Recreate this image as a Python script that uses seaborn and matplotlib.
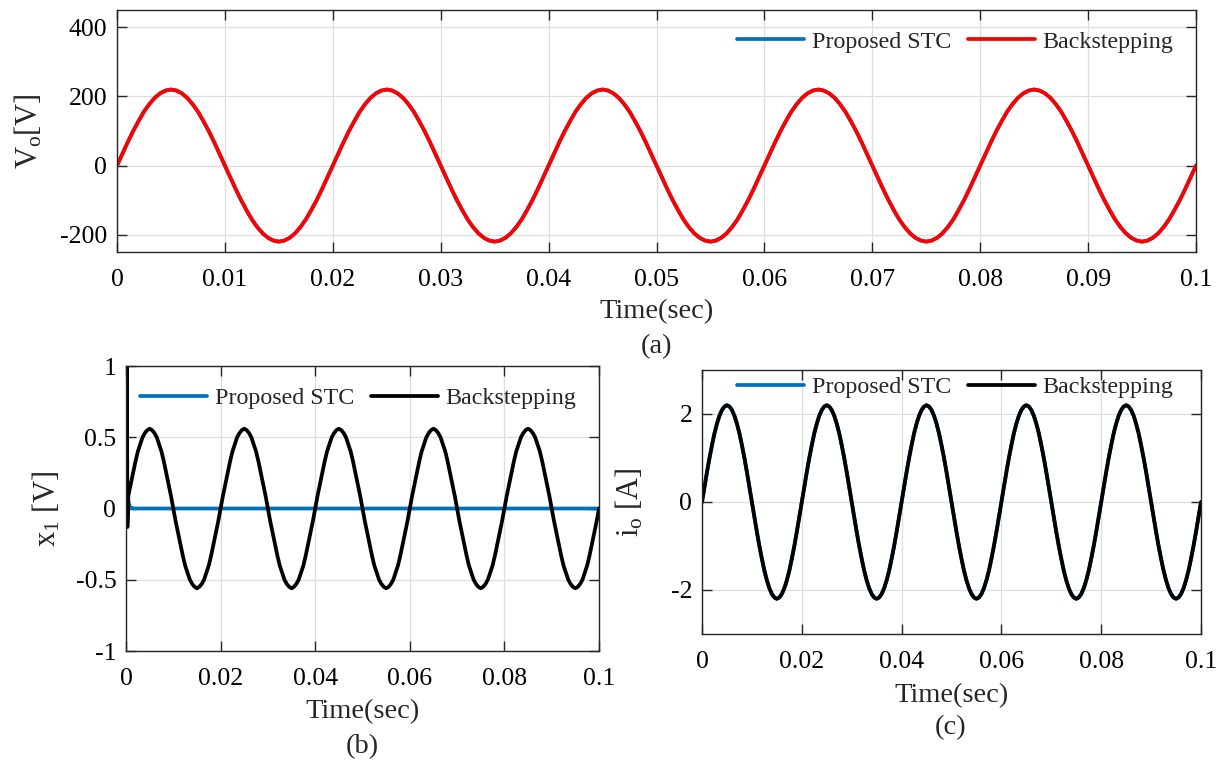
import matplotlib
matplotlib.use("Agg")
import matplotlib.pyplot as plt
import seaborn as sns

# ---------------- data ----------------
time_ms = [0, 0.5, 1, 1.5, 2, 2.5, 3, 3.5, 4, 4.5, 5, 5.5, 6, 6.5, 7, 7.5, 8, 8.5, 9, 9.5,
           10, 10.5, 11, 11.5, 12, 12.5, 13, 13.5, 14, 14.5, 15, 15.5, 16, 16.5, 17, 17.5, 18, 18.5, 19, 19.5,
           20, 20.5, 21, 21.5, 22, 22.5, 23, 23.5, 24, 24.5, 25, 25.5, 26, 26.5, 27, 27.5, 28, 28.5, 29, 29.5,
           30, 30.5, 31, 31.5, 32, 32.5, 33, 33.5, 34, 34.5, 35, 35.5, 36, 36.5, 37, 37.5, 38, 38.5, 39, 39.5,
           40, 40.5, 41, 41.5, 42, 42.5, 43, 43.5, 44, 44.5, 45, 45.5, 46, 46.5, 47, 47.5, 48, 48.5, 49, 49.5,
           50, 50.5, 51, 51.5, 52, 52.5, 53, 53.5, 54, 54.5, 55, 55.5, 56, 56.5, 57, 57.5, 58, 58.5, 59, 59.5,
           60, 60.5, 61, 61.5, 62, 62.5, 63, 63.5, 64, 64.5, 65, 65.5, 66, 66.5, 67, 67.5, 68, 68.5, 69, 69.5,
           70, 70.5, 71, 71.5, 72, 72.5, 73, 73.5, 74, 74.5, 75, 75.5, 76, 76.5, 77, 77.5, 78, 78.5, 79, 79.5,
           80, 80.5, 81, 81.5, 82, 82.5, 83, 83.5, 84, 84.5, 85, 85.5, 86, 86.5, 87, 87.5, 88, 88.5, 89, 89.5,
           90, 90.5, 91, 91.5, 92, 92.5, 93, 93.5, 94, 94.5, 95, 95.5, 96, 96.5, 97, 97.5, 98, 98.5, 99, 99.5,
           100]

vo_backstepping = [
    0, 34, 68, 100, 129, 156, 178, 196, 209, 217, 220, 217, 209, 196, 178, 156, 129, 100, 68, 34,
    0, -34, -68, -100, -129, -156, -178, -196, -209, -217, -220, -217, -209, -196, -178, -156, -129, -100, -68, -34,
    0, 34, 68, 100, 129, 156, 178, 196, 209, 217, 220, 217, 209, 196, 178, 156, 129, 100, 68, 34,
    0, -34, -68, -100, -129, -156, -178, -196, -209, -217, -220, -217, -209, -196, -178, -156, -129, -100, -68, -34,
    0, 34, 68, 100, 129, 156, 178, 196, 209, 217, 220, 217, 209, 196, 178, 156, 129, 100, 68, 34,
    0, -34, -68, -100, -129, -156, -178, -196, -209, -217, -220, -217, -209, -196, -178, -156, -129, -100, -68, -34,
    0, 34, 68, 100, 129, 156, 178, 196, 209, 217, 220, 217, 209, 196, 178, 156, 129, 100, 68, 34,
    0, -34, -68, -100, -129, -156, -178, -196, -209, -217, -220, -217, -209, -196, -178, -156, -129, -100, -68, -34,
    0, 34, 68, 100, 129, 156, 178, 196, 209, 217, 220, 217, 209, 196, 178, 156, 129, 100, 68, 34,
    0, -34, -68, -100, -129, -156, -178, -196, -209, -217, -220, -217, -209, -196, -178, -156, -129, -100, -68, -34,
    0]
# Proposed STC output voltage coincides with the backstepping trace
vo_stc = [
    0, 34, 68, 100, 129, 156, 178, 196, 209, 217, 220, 217, 209, 196, 178, 156, 129, 100, 68, 34,
    0, -34, -68, -100, -129, -156, -178, -196, -209, -217, -220, -217, -209, -196, -178, -156, -129, -100, -68, -34,
    0, 34, 68, 100, 129, 156, 178, 196, 209, 217, 220, 217, 209, 196, 178, 156, 129, 100, 68, 34,
    0, -34, -68, -100, -129, -156, -178, -196, -209, -217, -220, -217, -209, -196, -178, -156, -129, -100, -68, -34,
    0, 34, 68, 100, 129, 156, 178, 196, 209, 217, 220, 217, 209, 196, 178, 156, 129, 100, 68, 34,
    0, -34, -68, -100, -129, -156, -178, -196, -209, -217, -220, -217, -209, -196, -178, -156, -129, -100, -68, -34,
    0, 34, 68, 100, 129, 156, 178, 196, 209, 217, 220, 217, 209, 196, 178, 156, 129, 100, 68, 34,
    0, -34, -68, -100, -129, -156, -178, -196, -209, -217, -220, -217, -209, -196, -178, -156, -129, -100, -68, -34,
    0, 34, 68, 100, 129, 156, 178, 196, 209, 217, 220, 217, 209, 196, 178, 156, 129, 100, 68, 34,
    0, -34, -68, -100, -129, -156, -178, -196, -209, -217, -220, -217, -209, -196, -178, -156, -129, -100, -68, -34,
    0]

io_backstepping = [
    0, 0.34, 0.68, 1.0, 1.29, 1.56, 1.78, 1.96, 2.09, 2.17, 2.2, 2.17, 2.09, 1.96, 1.78, 1.56, 1.29, 1.0, 0.68, 0.34,
    0, -0.34, -0.68, -1.0, -1.29, -1.56, -1.78, -1.96, -2.09, -2.17, -2.2, -2.17, -2.09, -1.96, -1.78, -1.56, -1.29, -1.0, -0.68, -0.34,
    0, 0.34, 0.68, 1.0, 1.29, 1.56, 1.78, 1.96, 2.09, 2.17, 2.2, 2.17, 2.09, 1.96, 1.78, 1.56, 1.29, 1.0, 0.68, 0.34,
    0, -0.34, -0.68, -1.0, -1.29, -1.56, -1.78, -1.96, -2.09, -2.17, -2.2, -2.17, -2.09, -1.96, -1.78, -1.56, -1.29, -1.0, -0.68, -0.34,
    0, 0.34, 0.68, 1.0, 1.29, 1.56, 1.78, 1.96, 2.09, 2.17, 2.2, 2.17, 2.09, 1.96, 1.78, 1.56, 1.29, 1.0, 0.68, 0.34,
    0, -0.34, -0.68, -1.0, -1.29, -1.56, -1.78, -1.96, -2.09, -2.17, -2.2, -2.17, -2.09, -1.96, -1.78, -1.56, -1.29, -1.0, -0.68, -0.34,
    0, 0.34, 0.68, 1.0, 1.29, 1.56, 1.78, 1.96, 2.09, 2.17, 2.2, 2.17, 2.09, 1.96, 1.78, 1.56, 1.29, 1.0, 0.68, 0.34,
    0, -0.34, -0.68, -1.0, -1.29, -1.56, -1.78, -1.96, -2.09, -2.17, -2.2, -2.17, -2.09, -1.96, -1.78, -1.56, -1.29, -1.0, -0.68, -0.34,
    0, 0.34, 0.68, 1.0, 1.29, 1.56, 1.78, 1.96, 2.09, 2.17, 2.2, 2.17, 2.09, 1.96, 1.78, 1.56, 1.29, 1.0, 0.68, 0.34,
    0, -0.34, -0.68, -1.0, -1.29, -1.56, -1.78, -1.96, -2.09, -2.17, -2.2, -2.17, -2.09, -1.96, -1.78, -1.56, -1.29, -1.0, -0.68, -0.34,
    0]
# Proposed STC output current coincides with the backstepping trace
io_stc = [
    0, 0.34, 0.68, 1.0, 1.29, 1.56, 1.78, 1.96, 2.09, 2.17, 2.2, 2.17, 2.09, 1.96, 1.78, 1.56, 1.29, 1.0, 0.68, 0.34,
    0, -0.34, -0.68, -1.0, -1.29, -1.56, -1.78, -1.96, -2.09, -2.17, -2.2, -2.17, -2.09, -1.96, -1.78, -1.56, -1.29, -1.0, -0.68, -0.34,
    0, 0.34, 0.68, 1.0, 1.29, 1.56, 1.78, 1.96, 2.09, 2.17, 2.2, 2.17, 2.09, 1.96, 1.78, 1.56, 1.29, 1.0, 0.68, 0.34,
    0, -0.34, -0.68, -1.0, -1.29, -1.56, -1.78, -1.96, -2.09, -2.17, -2.2, -2.17, -2.09, -1.96, -1.78, -1.56, -1.29, -1.0, -0.68, -0.34,
    0, 0.34, 0.68, 1.0, 1.29, 1.56, 1.78, 1.96, 2.09, 2.17, 2.2, 2.17, 2.09, 1.96, 1.78, 1.56, 1.29, 1.0, 0.68, 0.34,
    0, -0.34, -0.68, -1.0, -1.29, -1.56, -1.78, -1.96, -2.09, -2.17, -2.2, -2.17, -2.09, -1.96, -1.78, -1.56, -1.29, -1.0, -0.68, -0.34,
    0, 0.34, 0.68, 1.0, 1.29, 1.56, 1.78, 1.96, 2.09, 2.17, 2.2, 2.17, 2.09, 1.96, 1.78, 1.56, 1.29, 1.0, 0.68, 0.34,
    0, -0.34, -0.68, -1.0, -1.29, -1.56, -1.78, -1.96, -2.09, -2.17, -2.2, -2.17, -2.09, -1.96, -1.78, -1.56, -1.29, -1.0, -0.68, -0.34,
    0, 0.34, 0.68, 1.0, 1.29, 1.56, 1.78, 1.96, 2.09, 2.17, 2.2, 2.17, 2.09, 1.96, 1.78, 1.56, 1.29, 1.0, 0.68, 0.34,
    0, -0.34, -0.68, -1.0, -1.29, -1.56, -1.78, -1.96, -2.09, -2.17, -2.2, -2.17, -2.09, -1.96, -1.78, -1.56, -1.29, -1.0, -0.68, -0.34,
    0]

# x1 backstepping: start-up spike, then steady oscillation
x1_bs_time_ms = [0, 0.15, 0.3,
                 0.5, 1, 1.5, 2, 2.5, 3, 3.5, 4, 4.5, 5, 5.5, 6, 6.5, 7, 7.5, 8, 8.5, 9, 9.5,
                 10, 10.5, 11, 11.5, 12, 12.5, 13, 13.5, 14, 14.5, 15, 15.5, 16, 16.5, 17, 17.5, 18, 18.5, 19, 19.5,
                 20, 20.5, 21, 21.5, 22, 22.5, 23, 23.5, 24, 24.5, 25, 25.5, 26, 26.5, 27, 27.5, 28, 28.5, 29, 29.5,
                 30, 30.5, 31, 31.5, 32, 32.5, 33, 33.5, 34, 34.5, 35, 35.5, 36, 36.5, 37, 37.5, 38, 38.5, 39, 39.5,
                 40, 40.5, 41, 41.5, 42, 42.5, 43, 43.5, 44, 44.5, 45, 45.5, 46, 46.5, 47, 47.5, 48, 48.5, 49, 49.5,
                 50, 50.5, 51, 51.5, 52, 52.5, 53, 53.5, 54, 54.5, 55, 55.5, 56, 56.5, 57, 57.5, 58, 58.5, 59, 59.5,
                 60, 60.5, 61, 61.5, 62, 62.5, 63, 63.5, 64, 64.5, 65, 65.5, 66, 66.5, 67, 67.5, 68, 68.5, 69, 69.5,
                 70, 70.5, 71, 71.5, 72, 72.5, 73, 73.5, 74, 74.5, 75, 75.5, 76, 76.5, 77, 77.5, 78, 78.5, 79, 79.5,
                 80, 80.5, 81, 81.5, 82, 82.5, 83, 83.5, 84, 84.5, 85, 85.5, 86, 86.5, 87, 87.5, 88, 88.5, 89, 89.5,
                 90, 90.5, 91, 91.5, 92, 92.5, 93, 93.5, 94, 94.5, 95, 95.5, 96, 96.5, 97, 97.5, 98, 98.5, 99, 99.5,
                 100]
x1_backstepping = [
    0, 1.5, -0.13,
    0.09, 0.17, 0.25, 0.33, 0.4, 0.45, 0.5, 0.53, 0.55, 0.56, 0.55, 0.53, 0.5, 0.45, 0.4, 0.33, 0.25, 0.17, 0.09,
    0, -0.09, -0.17, -0.25, -0.33, -0.4, -0.45, -0.5, -0.53, -0.55, -0.56, -0.55, -0.53, -0.5, -0.45, -0.4, -0.33, -0.25, -0.17, -0.09,
    0, 0.09, 0.17, 0.25, 0.33, 0.4, 0.45, 0.5, 0.53, 0.55, 0.56, 0.55, 0.53, 0.5, 0.45, 0.4, 0.33, 0.25, 0.17, 0.09,
    0, -0.09, -0.17, -0.25, -0.33, -0.4, -0.45, -0.5, -0.53, -0.55, -0.56, -0.55, -0.53, -0.5, -0.45, -0.4, -0.33, -0.25, -0.17, -0.09,
    0, 0.09, 0.17, 0.25, 0.33, 0.4, 0.45, 0.5, 0.53, 0.55, 0.56, 0.55, 0.53, 0.5, 0.45, 0.4, 0.33, 0.25, 0.17, 0.09,
    0, -0.09, -0.17, -0.25, -0.33, -0.4, -0.45, -0.5, -0.53, -0.55, -0.56, -0.55, -0.53, -0.5, -0.45, -0.4, -0.33, -0.25, -0.17, -0.09,
    0, 0.09, 0.17, 0.25, 0.33, 0.4, 0.45, 0.5, 0.53, 0.55, 0.56, 0.55, 0.53, 0.5, 0.45, 0.4, 0.33, 0.25, 0.17, 0.09,
    0, -0.09, -0.17, -0.25, -0.33, -0.4, -0.45, -0.5, -0.53, -0.55, -0.56, -0.55, -0.53, -0.5, -0.45, -0.4, -0.33, -0.25, -0.17, -0.09,
    0, 0.09, 0.17, 0.25, 0.33, 0.4, 0.45, 0.5, 0.53, 0.55, 0.56, 0.55, 0.53, 0.5, 0.45, 0.4, 0.33, 0.25, 0.17, 0.09,
    0, -0.09, -0.17, -0.25, -0.33, -0.4, -0.45, -0.5, -0.53, -0.55, -0.56, -0.55, -0.53, -0.5, -0.45, -0.4, -0.33, -0.25, -0.17, -0.09,
    0]
# x1 proposed STC: fast decay to zero
x1_stc_time_ms = [0, 0.1, 0.2, 0.4, 0.6, 0.8, 1.0, 1.5, 2, 50, 100]
x1_stc = [0.37, 0.25, 0.16, 0.07, 0.035, 0.015, 0.007, 0.001, 0, 0, 0]

# axes ticks
ticks_a_x = [0, 0.01, 0.02, 0.03, 0.04, 0.05, 0.06, 0.07, 0.08, 0.09, 0.1]
ticks_a_y = [-200, 0, 200, 400]
ticks_bc_x = [0, 0.02, 0.04, 0.06, 0.08, 0.1]
ticks_b_y = [-1, -0.5, 0, 0.5, 1]
ticks_c_y = [-2, 0, 2]

# ---------------- style ----------------
sns.set_style("ticks")
plt.rcParams.update({
    "font.family": ["Liberation Serif", "DejaVu Serif"],
    "mathtext.fontset": "custom",
    "mathtext.rm": "Liberation Serif",
    "mathtext.it": "Liberation Serif:italic",
    "axes.edgecolor": "#262626",
    "axes.linewidth": 1.0,
    "xtick.color": "#262626",
    "ytick.color": "#262626",
    "xtick.labelcolor": "black",
    "ytick.labelcolor": "black",
})

BLUE = "#0072BD"
RED = "#FF0000"
BLACK = "#000000"
LW = 2.7
TICK_FS = 18.5
LABEL_FS = 20.5
YLABEL_FS = 22
LEG_FS = 17.3

W, H = 1221, 760
fig = plt.figure(figsize=(W / 100, H / 100), dpi=100)


def px_axes(l, t, r, b):
    return fig.add_axes([l / W, 1 - b / H, (r - l) / W, (b - t) / H])


def style_axes(ax, xt, yt, xlim, ylim):
    ax.set_xlim(*xlim)
    ax.set_ylim(*ylim)
    ax.set_xticks(xt)
    ax.set_xticklabels(["%g" % v for v in xt])
    ax.set_yticks(yt)
    ax.set_yticklabels(["%g" % v for v in yt])
    ax.tick_params(direction="in", length=7, width=1.0, top=True, right=True,
                   labelsize=TICK_FS)
    ax.tick_params(axis="x", pad=12)
    ax.tick_params(axis="y", pad=7)
    ax.grid(True, color="#dedede", linewidth=0.9)
    ax.set_axisbelow(True)
    for s in ax.spines.values():
        s.set_visible(True)


def add_legend(ax, cx, cy):
    ax.legend(loc="center", bbox_to_anchor=(cx, cy), ncol=2,
              frameon=False, fontsize=LEG_FS, handlelength=2.8, handletextpad=0.3,
              columnspacing=0.7, borderaxespad=0, borderpad=0)


t_s = [v / 1000 for v in time_ms]
t_bs_s = [v / 1000 for v in x1_bs_time_ms]
t_stc_s = [v / 1000 for v in x1_stc_time_ms]

# ---------------- (a) ----------------
axa = px_axes(117, 10, 1196, 252)
sns.lineplot(x=t_s, y=vo_stc, ax=axa, color=BLUE, linewidth=LW, label="Proposed STC", estimator=None)
sns.lineplot(x=t_s, y=vo_backstepping, ax=axa, color=RED, linewidth=LW, label="Backstepping", estimator=None)
style_axes(axa, ticks_a_x, ticks_a_y, (0, 0.1), (-250, 450))
axa.set_xlabel("Time(sec)", fontsize=LABEL_FS, va="center")
axa.xaxis.set_label_coords(0.5, (252 - 312) / 242)
axa.set_ylabel(r"V$_\mathrm{o}$[V]", fontsize=YLABEL_FS, va="center")
axa.yaxis.set_label_coords((29 - 117) / 1079, 0.5)
add_legend(axa, (955 - 117) / 1079, (252 - 42) / 242)
fig.text(656 / W, 1 - 347 / H, "(a)", fontsize=LABEL_FS, ha="center", va="center")

# ---------------- (b) ----------------
axb = px_axes(126, 366, 599, 651)
sns.lineplot(x=t_stc_s, y=x1_stc, ax=axb, color=BLUE, linewidth=LW, label="Proposed STC", estimator=None)
sns.lineplot(x=t_bs_s, y=x1_backstepping, ax=axb, color=BLACK, linewidth=LW, label="Backstepping",
             estimator=None, sort=False)
style_axes(axb, ticks_bc_x, ticks_b_y, (0, 0.1), (-1, 1))
axb.set_xlabel("Time(sec)", fontsize=LABEL_FS, va="center")
axb.xaxis.set_label_coords(0.5, (651 - 712) / 285)
axb.set_ylabel(r"x$_\mathrm{1}$ [V]", fontsize=YLABEL_FS, va="center")
axb.yaxis.set_label_coords((47 - 126) / 473, 0.5)
add_legend(axb, (358 - 126) / 473, (651 - 398) / 285)
fig.text(362 / W, 1 - 747 / H, "(b)", fontsize=LABEL_FS, ha="center", va="center")

# ---------------- (c) ----------------
axc = px_axes(702, 370, 1201, 634)
sns.lineplot(x=t_s, y=io_stc, ax=axc, color=BLUE, linewidth=LW, label="Proposed STC", estimator=None)
sns.lineplot(x=t_s, y=io_backstepping, ax=axc, color=BLACK, linewidth=LW, label="Backstepping", estimator=None)
style_axes(axc, ticks_bc_x, ticks_c_y, (0, 0.1), (-3, 3))
axc.set_xlabel("Time(sec)", fontsize=LABEL_FS, va="center")
axc.xaxis.set_label_coords(0.5, (634 - 696) / 264)
axc.set_ylabel(r"i$_\mathrm{o}$ [A]", fontsize=YLABEL_FS, va="center")
axc.yaxis.set_label_coords((630 - 702) / 499, 0.5)
add_legend(axc, (955 - 702) / 499, (634 - 387) / 264)
fig.text(951 / W, 1 - 728 / H, "(c)", fontsize=LABEL_FS, ha="center", va="center")

fig.savefig("out.png", dpi=100)
